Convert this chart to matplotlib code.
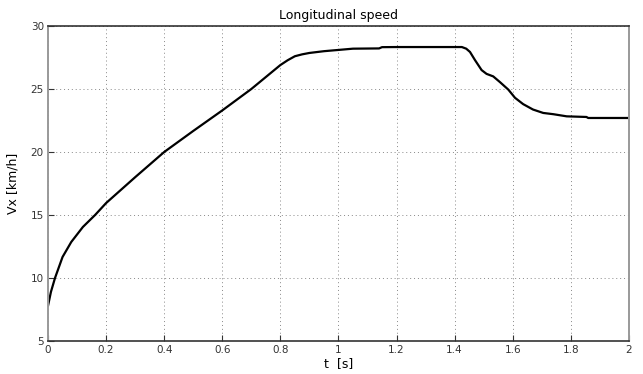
import matplotlib
matplotlib.use("Agg")
import matplotlib.pyplot as plt

# speed trace
t = [0.0, 0.01, 0.024, 0.05, 0.08, 0.12, 0.162, 0.2, 0.3, 0.4, 0.5, 0.6,
     0.7, 0.75, 0.8, 0.825, 0.85, 0.875, 0.9, 0.95, 1.0, 1.05, 1.14, 1.15,
     1.2, 1.3, 1.425, 1.44, 1.453, 1.47, 1.493, 1.51, 1.533, 1.556, 1.585,
     1.608, 1.636, 1.67, 1.705, 1.74, 1.786, 1.854, 1.86, 2.0]
vx = [7.8, 8.9, 10.0, 11.67, 12.86, 14.05, 15.0, 15.95, 18.0, 20.0, 21.67, 23.3,
      25.0, 25.95, 26.9, 27.28, 27.6, 27.75, 27.86, 28.0, 28.1, 28.2, 28.22, 28.32,
      28.33, 28.33, 28.33, 28.2, 27.94, 27.3, 26.5, 26.2, 26.0, 25.55, 24.95,
      24.3, 23.8, 23.37, 23.1, 23.0, 22.83, 22.78, 22.7, 22.7]

xticks = [0, 0.2, 0.4, 0.6, 0.8, 1, 1.2, 1.4, 1.6, 1.8, 2]
xticklabels = ["0", "0.2", "0.4", "0.6", "0.8", "1", "1.2", "1.4", "1.6", "1.8", "2"]
yticks = [5, 10, 15, 20, 25, 30]

plt.rcParams["font.family"] = ["DejaVu Sans"]

fig = plt.figure(figsize=(6.43, 3.74), dpi=100)
ax = fig.add_axes([0.0747, 0.0882, 0.9033, 0.8423])

ax.plot(t, vx, color="black", linewidth=1.6)

ax.set_xlim(0, 2)
ax.set_ylim(5, 30)
ax.set_xticks(xticks)
ax.set_xticklabels(xticklabels)
ax.set_yticks(yticks)
ax.tick_params(direction="in", labelsize=7.5, colors="#333333", length=4, pad=3)
ax.grid(True, linestyle=(0, (1, 3)), color="#888888", linewidth=0.7)

for side in ["left", "right"]:
    ax.spines[side].set_color("#999999")
    ax.spines[side].set_linewidth(1.4)
for side in ["top", "bottom"]:
    ax.spines[side].set_color("#333333")
    ax.spines[side].set_linewidth(1.2)

ax.set_title("Longitudinal speed", fontsize=9, pad=5)
ax.set_xlabel("t  [s]", fontsize=9, labelpad=1)
ax.set_ylabel("Vx [km/h]", fontsize=9, labelpad=8)

fig.savefig("out.png", dpi=100)
